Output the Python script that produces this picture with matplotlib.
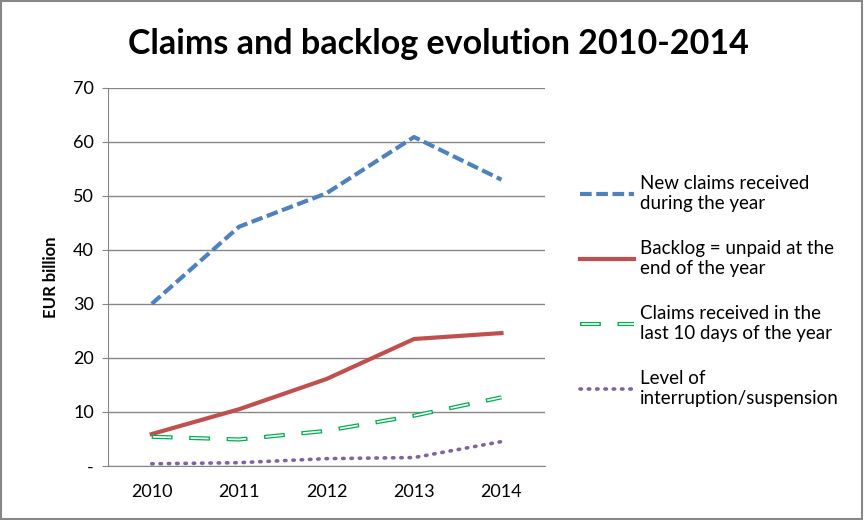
import numpy as np
import matplotlib.pyplot as plt
from matplotlib.patches import Rectangle

years = ["2010", "2011", "2012", "2013", "2014"]
new_claims = [30.0, 44.3, 50.5, 60.9, 53.0]
backlog = [5.9, 10.5, 16.1, 23.5, 24.6]
last_10_days = [5.4, 4.9, 6.5, 9.3, 12.7]
interruption = [0.4, 0.6, 1.35, 1.55, 4.5]

labels = [
    "New claims received\nduring the year",
    "Backlog = unpaid at the\nend of the year",
    "Claims received in the\nlast 10 days of the year",
    "Level of\ninterruption/suspension",
]
yticks = [0, 10, 20, 30, 40, 50, 60, 70]
ytick_labels = ["-", "10", "20", "30", "40", "50", "60", "70"]

plt.rcParams['font.family'] = ['Lato', 'DejaVu Sans']

fig = plt.figure(figsize=(8.64, 5.2), dpi=100)
ax = fig.add_axes([0.125, 0.104, 0.506, 0.727])

x = np.arange(len(years))
l1, = ax.plot(x, new_claims, color="#4f81bd", lw=3, ls=(0, (2.8, 1.1)))
l2, = ax.plot(x, backlog, color="#c0504d", lw=3)
# green dashes drawn hollow: green outer, white inner
g, = ax.plot(x, last_10_days, color="#00b050", lw=3, ls=(0, (5, 4)))
w, = ax.plot(x, last_10_days, color="white", lw=1.2,
             ls=(26 / 1.2, (13 / 1.2, 14 / 1.2)))
l4, = ax.plot(x, interruption, color="#8064a2", lw=2.6, ls=(0, (0.4, 1.9)),
              dash_capstyle="round")

ax.set_xlim(-0.5, len(years) - 0.5)
ax.set_ylim(0, 70)
ax.set_xticks(x)
ax.set_xticklabels(years, fontsize=13)
ax.set_yticks(yticks)
ax.set_yticklabels(ytick_labels, fontsize=13)
ax.yaxis.grid(True, color="#868686", lw=1)
ax.set_axisbelow(True)
for s in ["top", "right"]:
    ax.spines[s].set_visible(False)
for s in ["left", "bottom"]:
    ax.spines[s].set_color("#868686")
ax.tick_params(axis="x", length=0, pad=13)
ax.tick_params(axis="y", length=4, color="#868686", pad=6)
ax.set_ylabel("EUR billion", fontsize=12, fontweight="bold", labelpad=10)

fig.text(0.507, 0.915, "Claims and backlog evolution 2010-2014", ha="center", va="center",
         fontsize=24.5, fontweight="bold")

ax.legend([l1, l2, (g, w), l4], labels, loc="center left", bbox_to_anchor=(1.04, 0.463),
          frameon=False, fontsize=13.5, handlelength=2.9, labelspacing=1.5,
          handletextpad=0.3)

fig.add_artist(Rectangle((0.001, 0.002), 0.997, 0.996, transform=fig.transFigure,
                         fill=False, edgecolor="#868686", lw=1.5))

fig.savefig("out.png", dpi=100)
